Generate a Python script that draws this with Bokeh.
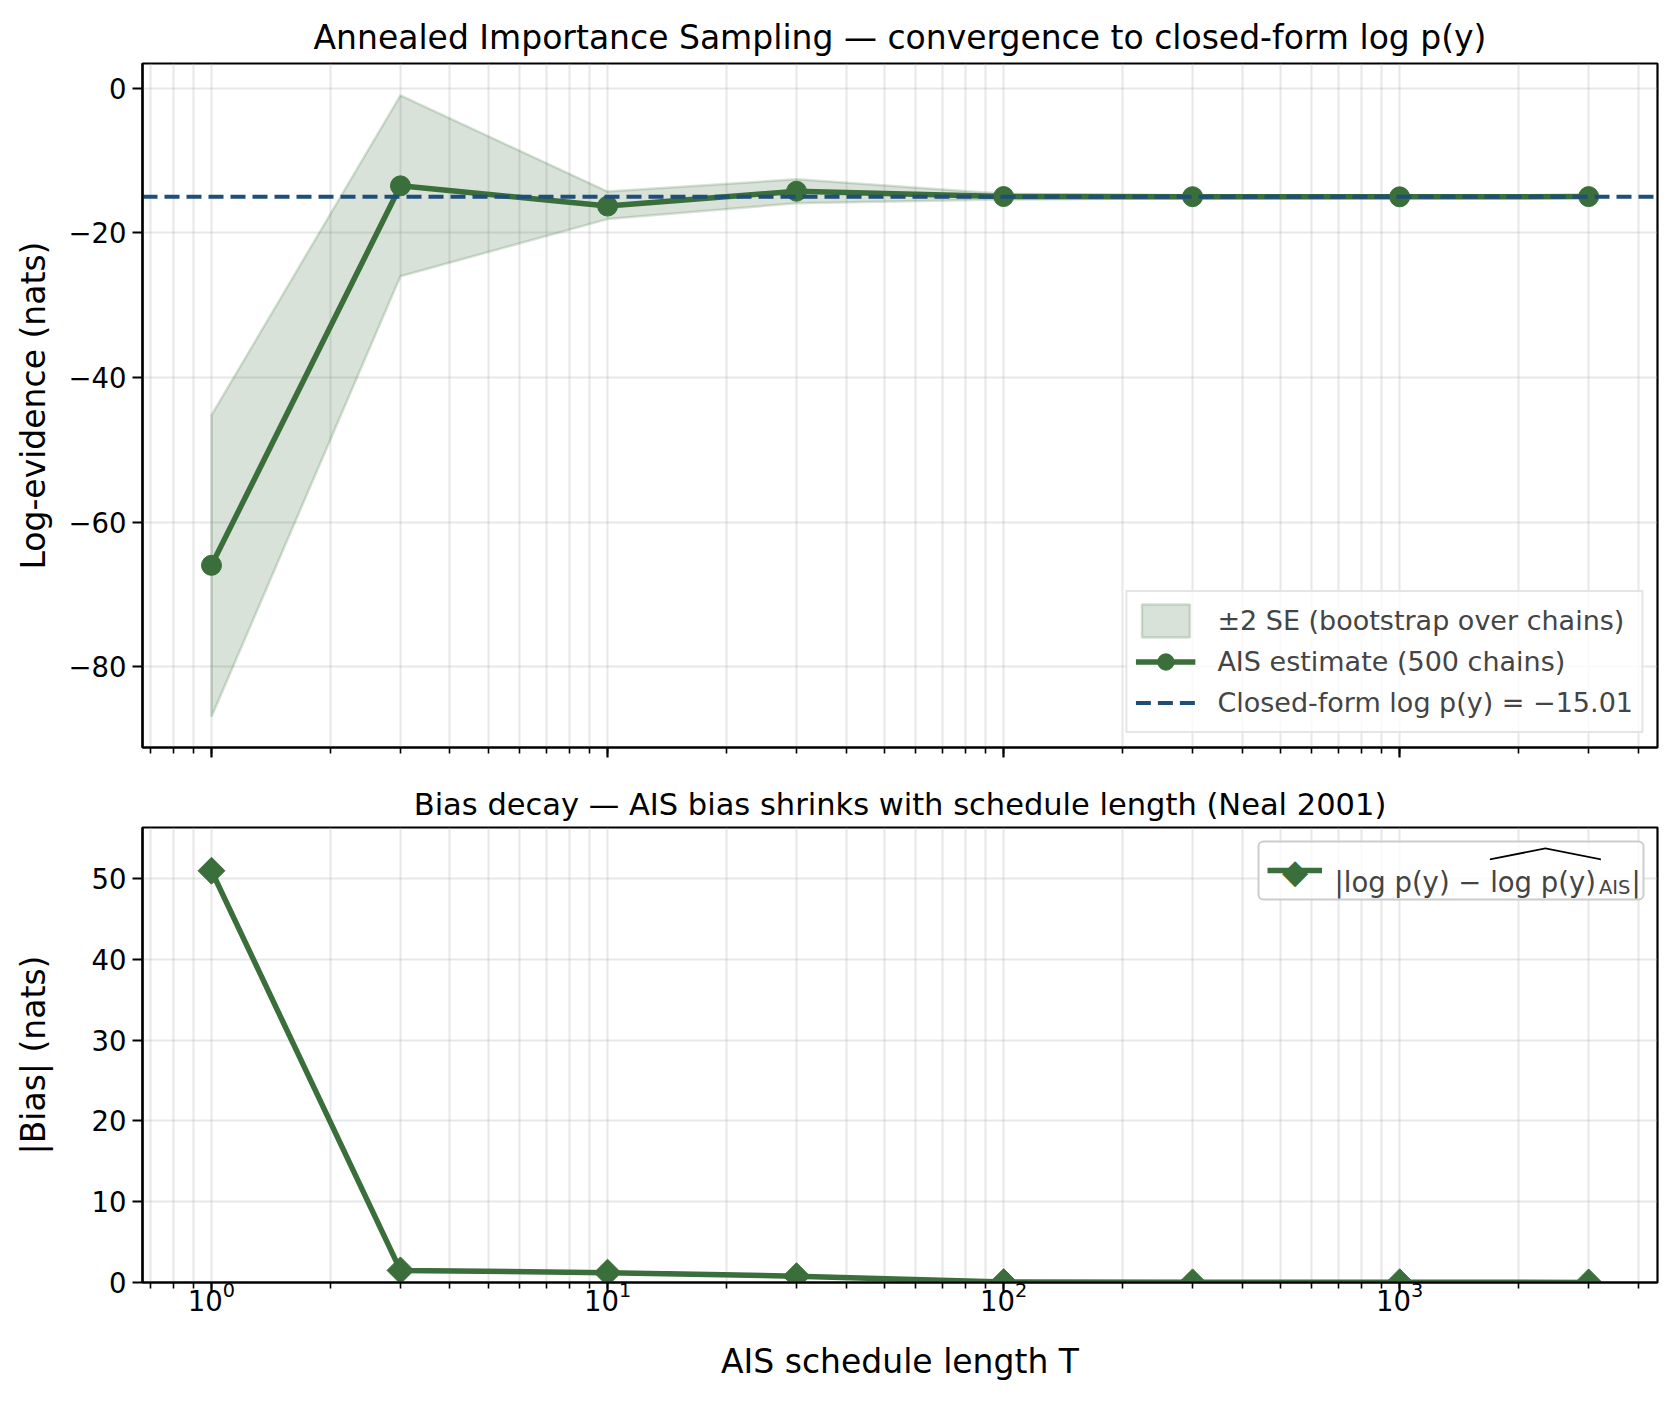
import numpy as np
from bokeh.plotting import figure
from bokeh.layouts import column
from bokeh.models import (Range1d, Legend, LegendItem, CustomJSTickFormatter,
                          SingleIntervalTicker, Label, PolyAnnotation, BoxAnnotation)
from bokeh.embed import file_html
from bokeh.resources import INLINE

# AIS schedule lengths and results
T = [1, 3, 10, 30, 100, 300, 1000, 3000]
AIS_EST = [-65.96, -13.50, -16.30, -14.25, -14.98, -15.00, -15.02, -14.99]
SE_LOW = [-86.9, -26.0, -18.1, -15.9, -15.4, -15.2, -15.15, -15.1]
SE_HIGH = [-45.2, -1.0, -14.3, -12.6, -14.6, -14.8, -14.85, -14.9]
CLOSED_FORM = -15.01
BIAS = [50.95, 1.50, 1.22, 0.78, 0.05, 0.02, 0.03, 0.01]

GREEN = "#3a6e3a"
NAVY = "#1f4e79"
FONT = "DejaVu Sans"

# layout (px)
W = 1677
FW = 1515
FH_TOP, FH_BOT = 684, 455
X_LO, X_HI = 10 ** -0.1742, 10 ** 3.651

x_range = Range1d(X_LO, X_HI)

minus_fmt = CustomJSTickFormatter(
    code="return tick < 0 ? '\\u2212' + (-tick) : '' + tick;")


def style(p, ytick):
    p.title.text_font = FONT
    p.title.text_font_style = "normal"
    p.title.text_color = "black"
    p.title.align = "center"
    p.outline_line_color = "black"
    p.outline_line_width = 2.2
    p.outline_line_alpha = 1
    for ax in p.axis:
        ax.axis_line_width = 2.2
        ax.major_tick_line_width = 2.2
        ax.major_tick_out = 10
        ax.major_tick_in = 0
        ax.minor_tick_out = 6
        ax.minor_tick_in = 0
        ax.minor_tick_line_width = 1.6
        ax.major_label_text_font = FONT
        ax.major_label_text_font_size = "27.5px"
        ax.major_label_text_color = "black"
        ax.axis_label_text_font = FONT
        ax.axis_label_text_font_size = "33px"
        ax.axis_label_text_font_style = "normal"
        ax.axis_label_text_color = "black"
        ax.major_label_standoff = 6
    p.yaxis.ticker = SingleIntervalTicker(interval=ytick, num_minor_ticks=0)
    p.yaxis.formatter = minus_fmt
    p.yaxis.minor_tick_line_color = None
    p.grid.grid_line_color = "#b0b0b0"
    p.grid.grid_line_alpha = 0.3
    p.grid.grid_line_width = 2
    # minor grid already sits on the decades, so keep the major one out
    p.xgrid.grid_line_alpha = 0
    p.xgrid.minor_grid_line_color = "#b0b0b0"
    p.xgrid.minor_grid_line_alpha = 0.3
    p.xgrid.minor_grid_line_width = 2


# ============================================================================
# Top panel: AIS estimate vs closed form
# ============================================================================
top = figure(width=W, height=767, x_axis_type="log", x_range=x_range,
             y_range=Range1d(-91.14, 3.41), output_backend="svg",
             toolbar_location=None,
             title="Annealed Importance Sampling \u2014 convergence to closed-form log p(y)",
             min_border_left=142, min_border_right=20,
             min_border_top=63, min_border_bottom=20)
style(top, 20)
top.title.text_font_size = "33px"
top.title.standoff = 14
top.yaxis.axis_label = "Log-evidence (nats)"
top.yaxis.axis_label_standoff = 12
top.xaxis.formatter = CustomJSTickFormatter(code="return '';")
top.xaxis.major_label_text_font_size = "0px"
top.xaxis.major_label_standoff = 0

band = top.patch(T + T[::-1], SE_HIGH + SE_LOW[::-1], fill_color=GREEN,
                 fill_alpha=0.2, line_color=GREEN, line_alpha=0.2, line_width=2.5)
est_line = top.line(T, AIS_EST, line_color=GREEN, line_width=5.5)
est_pts = top.scatter(T, AIS_EST, marker="circle", size=20,
                      fill_color=GREEN, line_color=GREEN)
cf_line = top.line([X_LO, X_HI], [CLOSED_FORM, CLOSED_FORM], line_color=NAVY,
                   line_width=4.2, line_dash="15 7")

leg_top = Legend(items=[
    LegendItem(label="\u00b12 SE (bootstrap over chains)", renderers=[band]),
    LegendItem(label="AIS estimate (500 chains)", renderers=[est_line, est_pts]),
    LegendItem(label="Closed-form log p(y) = \u221215.01", renderers=[cf_line]),
], location="bottom_right", margin=14, padding=8, spacing=0,
    glyph_width=60, glyph_height=41, label_height=41, label_standoff=22,
    label_text_font=FONT, label_text_font_size="27px",
    border_line_color="#cccccc", border_line_width=2,
    background_fill_alpha=0.8)
top.add_layout(leg_top)

# ============================================================================
# Bottom panel: |bias| decay
# ============================================================================
Y_TOP_BOT = 56.3
bot = figure(width=W, height=630, x_axis_type="log", x_range=x_range,
             y_range=Range1d(0, Y_TOP_BOT), output_backend="svg",
             toolbar_location=None,
             title="Bias decay \u2014 AIS bias shrinks with schedule length (Neal 2001)",
             min_border_left=142, min_border_right=20,
             min_border_top=60, min_border_bottom=115)
style(bot, 10)
bot.title.text_font_size = "30.5px"
bot.title.standoff = 12
bot.yaxis.axis_label = "|Bias| (nats)"
bot.yaxis.axis_label_standoff = 36
bot.xaxis.axis_label = "AIS schedule length T"
bot.xaxis.axis_label_standoff = 28
bot.xaxis.major_label_standoff = -12

bias_line = bot.line(T, BIAS, line_color=GREEN, line_width=5.5)
bias_pts = bot.scatter(T, BIAS, marker="square", angle=np.pi / 4, size=19,
                       fill_color=GREEN, line_color=GREEN)

# legend: box drawn first, then a transparent legend for the line sample,
# then marker and math-like text pieces on top
PAD, GW, GH, STAND, LW = 9, 55, 40, 12, 300
BOX_W = 2 * PAD + GW + STAND + LW
BOX_H = 2 * PAD + GH
bot.add_layout(BoxAnnotation(left=FW - 14 - BOX_W, right=FW - 14,
                             top=FH_BOT - 14, bottom=FH_BOT - 14 - BOX_H,
                             left_units="screen", right_units="screen",
                             top_units="screen", bottom_units="screen",
                             fill_color="white", fill_alpha=0.8,
                             line_color="#cccccc", line_width=2, line_alpha=1,
                             border_radius=5))
leg_bot = Legend(items=[LegendItem(label=" ", renderers=[bias_line])],
                 location="top_right", margin=14, padding=PAD,
                 glyph_width=GW, glyph_height=GH, label_height=GH,
                 label_standoff=STAND, label_width=LW,
                 label_text_font=FONT, label_text_font_size="27px",
                 border_line_color="#cccccc", border_line_width=2,
                 border_line_alpha=0, background_fill_alpha=0)
bot.add_layout(leg_bot)

box_left = -(14 + BOX_W)
TX = box_left + PAD + GW + STAND
YC = -(14 + PAD + GH / 2)
bot.add_layout(Label(x=X_HI, y=Y_TOP_BOT, x_offset=box_left + PAD + GW / 2,
                     y_offset=YC, text="\u25c6", text_color=GREEN,
                     text_font=FONT, text_font_size="34px", text_align="center",
                     text_baseline="middle"))
main_w = 264.4
for txt, dx, dy, size in [("|log p(y) \u2212 log p(y)", TX, YC - 11, "27.5px"),
                          ("AIS", TX + main_w, YC - 17, "19.5px"),
                          ("|", TX + main_w + 32.5, YC - 11, "27.5px")]:
    bot.add_layout(Label(x=X_HI, y=Y_TOP_BOT, x_offset=dx, y_offset=dy, text=txt,
                         text_font=FONT, text_font_size=size,
                         text_baseline="alphabetic", text_align="left"))

hl, hr = FW + TX + 155.4, FW + TX + main_w + 2
hm = (hl + hr) / 2
hb, hp = FH_BOT - 31, FH_BOT - 20
bot.add_layout(PolyAnnotation(
    xs=[hl, hm, hr, hr, hm, hl], ys=[hb, hp, hb, hb - 1.8, hp - 1.8, hb - 1.8],
    xs_units="screen", ys_units="screen",
    fill_color="black", fill_alpha=1, line_color=None))

layout = column(top, bot, spacing=0)
open("out.html", "w").write(file_html(layout, INLINE))
